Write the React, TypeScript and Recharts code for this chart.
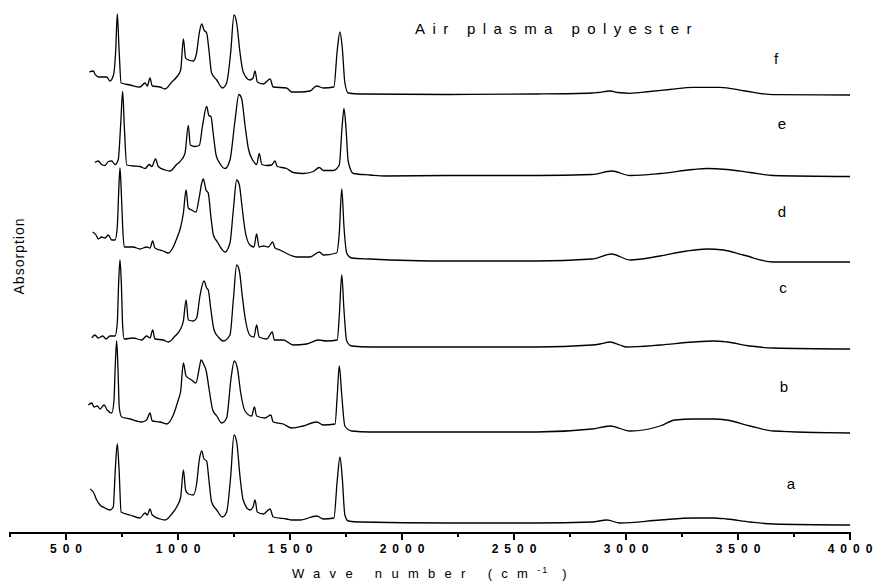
import React from "react";
import { LineChart, Line, XAxis, YAxis } from "recharts";

// FTIR spectra, air plasma treated polyester (a..f stacked bottom to top)
// [wavenumber cm-1, absorbance above the trace's own baseline]
const traceA: [number, number][] = [
  [607, 0.34], [622, 0.31], [637, 0.23], [652, 0.18], [674, 0.15], [696, 0.13], [711, 0.16],
  [720, 0.53], [729, 0.79], [737, 0.53], [746, 0.11], [786, 0.08], [830, 0.05], [853, 0.1],
  [863, 0.08], [875, 0.14], [885, 0.08], [920, 0.04], [942, 0.03], [972, 0.09], [994, 0.16],
  [1012, 0.26], [1024, 0.53], [1034, 0.33], [1046, 0.29], [1068, 0.28], [1083, 0.39], [1095, 0.63],
  [1106, 0.72], [1116, 0.64], [1128, 0.62], [1138, 0.43], [1150, 0.21], [1173, 0.13], [1198, 0.06],
  [1217, 0.11], [1235, 0.46], [1250, 0.88], [1262, 0.81], [1277, 0.46], [1291, 0.23], [1321, 0.13],
  [1335, 0.16], [1344, 0.23], [1354, 0.11], [1381, 0.09], [1411, 0.14], [1425, 0.06], [1485, 0.04],
  [1508, 0.03], [1545, 0.03], [1619, 0.07], [1649, 0.04], [1696, 0.05], [1711, 0.43], [1723, 0.66],
  [1733, 0.46], [1745, 0.08], [1760, 0.02], [1813, 0.01], [2200, 0], [2600, 0], [2848, 0.01],
  [2915, 0.03], [2973, 0], [3152, 0.03], [3300, 0.05], [3390, 0.05], [3450, 0.04], [3554, 0.01],
  [3657, -0.01], [4000, -0.02],
];

const traceB: [number, number][] = [
  [600, 0.27], [615, 0.29], [625, 0.25], [640, 0.26], [652, 0.23], [670, 0.27], [684, 0.22],
  [704, 0.19], [714, 0.31], [720, 0.67], [726, 0.91], [732, 0.64], [738, 0.24], [749, 0.15],
  [786, 0.13], [815, 0.11], [838, 0.1], [860, 0.12], [875, 0.19], [885, 0.11], [920, 0.1],
  [950, 0.08], [979, 0.17], [1001, 0.32], [1012, 0.41], [1024, 0.69], [1036, 0.56], [1061, 0.52],
  [1080, 0.49], [1095, 0.64], [1103, 0.72], [1116, 0.67], [1125, 0.62], [1140, 0.41], [1155, 0.22],
  [1173, 0.16], [1195, 0.09], [1217, 0.14], [1237, 0.54], [1251, 0.71], [1265, 0.64], [1280, 0.39],
  [1299, 0.21], [1329, 0.16], [1341, 0.25], [1351, 0.16], [1388, 0.14], [1414, 0.17], [1425, 0.1],
  [1470, 0.08], [1508, 0.04], [1559, 0.06], [1619, 0.1], [1649, 0.07], [1701, 0.08], [1711, 0.37],
  [1720, 0.66], [1731, 0.37], [1745, 0.06], [1775, 0.01], [1857, 0], [2200, 0], [2600, 0],
  [2848, 0.03], [2929, 0.06], [3018, 0.01], [3152, 0.06], [3219, 0.12], [3300, 0.13], [3390, 0.13],
  [3450, 0.12], [3554, 0.06], [3657, 0.01], [4000, -0.01],
];

const traceC: [number, number][] = [
  [615, 0.09], [629, 0.12], [644, 0.09], [664, 0.11], [679, 0.08], [696, 0.11], [719, 0.11],
  [729, 0.24], [735, 0.64], [741, 0.87], [747, 0.64], [753, 0.21], [760, 0.08], [800, 0.09],
  [838, 0.07], [860, 0.11], [875, 0.09], [887, 0.17], [897, 0.08], [934, 0.07], [957, 0.05],
  [987, 0.11], [1009, 0.17], [1024, 0.26], [1036, 0.47], [1046, 0.27], [1068, 0.26], [1083, 0.29],
  [1098, 0.51], [1116, 0.66], [1128, 0.59], [1135, 0.57], [1147, 0.37], [1161, 0.17], [1180, 0.1],
  [1202, 0.06], [1232, 0.12], [1247, 0.47], [1262, 0.82], [1274, 0.76], [1287, 0.51], [1302, 0.26],
  [1324, 0.11], [1339, 0.1], [1351, 0.22], [1362, 0.1], [1396, 0.08], [1421, 0.15], [1430, 0.07],
  [1470, 0.07], [1515, 0.02], [1574, 0.03], [1626, 0.07], [1664, 0.06], [1711, 0.07], [1720, 0.31],
  [1731, 0.72], [1741, 0.37], [1753, 0.06], [1775, 0.01], [1857, 0], [2200, 0], [2600, 0],
  [2848, 0.02], [2884, 0.03], [2929, 0.05], [2973, 0.02], [3002, 0], [3152, 0.02], [3300, 0.05],
  [3390, 0.06], [3450, 0.05], [3554, 0.01], [3657, -0.01], [4000, -0.02],
];

const traceD: [number, number][] = [
  [619, 0.29], [634, 0.26], [644, 0.22], [659, 0.24], [674, 0.23], [689, 0.26], [704, 0.21],
  [719, 0.21], [729, 0.34], [735, 0.68], [741, 0.93], [747, 0.68], [753, 0.34], [760, 0.14],
  [800, 0.14], [830, 0.12], [860, 0.14], [875, 0.13], [887, 0.2], [897, 0.13], [934, 0.1],
  [957, 0.08], [979, 0.14], [997, 0.24], [1012, 0.34], [1024, 0.48], [1036, 0.71], [1046, 0.53],
  [1061, 0.51], [1080, 0.49], [1095, 0.64], [1106, 0.78], [1113, 0.82], [1125, 0.71], [1135, 0.68],
  [1147, 0.44], [1158, 0.26], [1176, 0.19], [1195, 0.12], [1210, 0.09], [1232, 0.18], [1247, 0.51],
  [1262, 0.81], [1274, 0.76], [1284, 0.58], [1299, 0.31], [1321, 0.16], [1339, 0.14], [1351, 0.27],
  [1362, 0.14], [1381, 0.15], [1403, 0.14], [1423, 0.19], [1433, 0.13], [1455, 0.11], [1500, 0.06],
  [1530, 0.04], [1589, 0.04], [1631, 0.09], [1649, 0.06], [1708, 0.08], [1720, 0.28], [1731, 0.72],
  [1741, 0.34], [1753, 0.08], [1775, 0.03], [1857, 0.02], [2200, 0], [2600, 0], [2848, 0.02],
  [2936, 0.07], [3018, 0.01], [3152, 0.05], [3271, 0.1], [3360, 0.12], [3435, 0.11], [3524, 0.06],
  [3657, -0.01], [4000, -0.01],
];

const traceE: [number, number][] = [
  [629, 0.13], [644, 0.145], [659, 0.11], [674, 0.1], [689, 0.14], [704, 0.145], [719, 0.11],
  [733, 0.155], [744, 0.505], [753, 0.84], [760, 0.505], [771, 0.105], [800, 0.095], [830, 0.09],
  [853, 0.07], [872, 0.11], [883, 0.09], [900, 0.165], [912, 0.09], [942, 0.055], [964, 0.045],
  [994, 0.11], [1009, 0.14], [1031, 0.22], [1046, 0.5], [1055, 0.305], [1076, 0.29], [1095, 0.3],
  [1110, 0.505], [1128, 0.69], [1138, 0.6], [1147, 0.59], [1158, 0.405], [1170, 0.205], [1187, 0.12],
  [1210, 0.07], [1232, 0.155], [1254, 0.54], [1272, 0.81], [1284, 0.77], [1299, 0.505], [1314, 0.27],
  [1336, 0.145], [1351, 0.11], [1363, 0.22], [1374, 0.11], [1396, 0.1], [1418, 0.105], [1433, 0.145],
  [1443, 0.09], [1485, 0.07], [1515, 0.03], [1559, 0.02], [1604, 0.04], [1631, 0.08], [1649, 0.05],
  [1693, 0.05], [1720, 0.105], [1732, 0.47], [1741, 0.67], [1750, 0.47], [1760, 0.14], [1783, 0.02],
  [1857, 0.005], [1924, -0.005], [2200, 0], [2600, 0], [2848, 0.01], [2936, 0.045], [3018, 0],
  [3152, 0.02], [3300, 0.06], [3360, 0.07], [3450, 0.06], [3554, 0.03], [3657, 0], [4000, -0.01],
];

const traceF: [number, number][] = [
  [604, 0.22], [622, 0.23], [629, 0.2], [638, 0.18], [644, 0.17], [659, 0.17], [682, 0.17],
  [696, 0.13], [712, 0.19], [722, 0.44], [729, 0.8], [737, 0.44], [746, 0.11], [786, 0.09],
  [830, 0.07], [853, 0.11], [863, 0.08], [875, 0.16], [885, 0.08], [920, 0.07], [942, 0.05],
  [972, 0.12], [994, 0.17], [1012, 0.24], [1024, 0.55], [1034, 0.36], [1046, 0.34], [1068, 0.33],
  [1083, 0.41], [1095, 0.61], [1106, 0.7], [1116, 0.64], [1128, 0.61], [1138, 0.44], [1150, 0.21],
  [1173, 0.14], [1198, 0.06], [1217, 0.11], [1235, 0.41], [1250, 0.79], [1262, 0.71], [1277, 0.41],
  [1291, 0.22], [1321, 0.14], [1335, 0.16], [1344, 0.23], [1354, 0.12], [1381, 0.1], [1411, 0.15],
  [1425, 0.07], [1485, 0.06], [1508, 0.02], [1545, 0.02], [1589, 0.03], [1619, 0.08], [1649, 0.06],
  [1696, 0.07], [1711, 0.44], [1723, 0.62], [1733, 0.47], [1745, 0.11], [1760, 0.01], [1813, 0],
  [2200, -0.005], [2600, 0], [2848, 0.01], [2875, 0.015], [2929, 0.03], [2964, 0.015], [3018, 0.007],
  [3107, 0.025], [3196, 0.045], [3300, 0.067], [3420, 0.067], [3531, 0.03], [3657, -0.007], [4000, -0.01],
];

const traces = [traceA, traceB, traceC, traceD, traceE, traceF];
const traceNames = ["a", "b", "c", "d", "e", "f"];
// vertical stacking offset of each spectrum
const offsets = [0.1, 1.01, 1.86, 2.72, 3.575, 4.39];
const waveTicks = [250, 500, 750, 1000, 1250, 1500, 1750, 2000, 2250, 2500, 2750, 3000, 3250, 3500, 3750, 4000];

const FONT = "'Liberation Sans', Arial, Helvetica, sans-serif";

const WaveTick = (props: any) => {
  const { x, y, payload } = props;
  const major = payload.value % 500 === 0;
  const chars = String(payload.value).split("");
  return (
    <g>
      <line x1={x} x2={x} y1={y - 1} y2={y + (major ? 7 : 4)} stroke="#000" strokeWidth={2} />
      {major && (
        <text
          x={x}
          y={y + 20}
          textAnchor="middle"
          fontSize={12}
          fontWeight="bold"
          fill="#000"
          fontFamily={FONT}
        >
          {chars.map((c, i) => (
            <tspan key={i} dx={i === 0 ? 0 : 6}>
              {c}
            </tspan>
          ))}
        </text>
      )}
    </g>
  );
};

// label positions of a..f beside each trace
const labelPos: [number, number][] = [
  [791, 489], [784, 392], [783, 293], [782, 217], [782, 129], [776, 64],
];

export default function App() {
  const series = traces.map((pts, i) =>
    pts.map(([w, a]) => ({ w, v: +(a + offsets[i]).toFixed(3) }))
  );

  return (
    <div style={{ position: "absolute", left: 0, top: 0, width: 875, height: 584, background: "#fff" }}>
      <LineChart width={875} height={584} margin={{ top: 0, right: 25, left: 10, bottom: 0 }}>
        <XAxis
          type="number"
          dataKey="w"
          domain={[250, 4000]}
          ticks={waveTicks}
          interval={0}
          allowDataOverflow
          height={51}
          tickSize={0}
          tickMargin={0}
          tickLine={false}
          axisLine={{ stroke: "#000", strokeWidth: 2 }}
          tick={<WaveTick />}
        />
        <YAxis type="number" hide domain={[0, 5.33]} allowDataOverflow />
        {series.map((data, i) => (
          <Line
            key={traceNames[i]}
            data={data}
            dataKey="v"
            type="monotone"
            stroke="#000"
            strokeWidth={1.3}
            dot={false}
            activeDot={false}
            isAnimationActive={false}
          />
        ))}
      </LineChart>

      <svg
        width={875}
        height={584}
        style={{ position: "absolute", left: 0, top: 0, pointerEvents: "none" }}
        fontFamily={FONT}
      >
        <text x={415} y={34} fontSize={15} letterSpacing={7.4} fill="#000">
          Air plasma polyester
        </text>
        {traceNames.map((n, i) => (
          <text key={n} x={labelPos[i][0]} y={labelPos[i][1]} fontSize={15} textAnchor="middle" fill="#000">
            {n}
          </text>
        ))}
        <text x={292} y={578} fontSize={13} letterSpacing={9.3} fill="#000">
          Wave number (cm
          <tspan dy={-5} fontSize={9} letterSpacing={2}>-1</tspan>
          <tspan dy={5} fontSize={13} letterSpacing={9.3}> )</tspan>
        </text>
        <text
          x={24}
          y={256}
          fontSize={14}
          letterSpacing={1}
          textAnchor="middle"
          transform="rotate(-90 24 256)"
          fill="#000"
        >
          Absorption
        </text>
      </svg>
    </div>
  );
}
